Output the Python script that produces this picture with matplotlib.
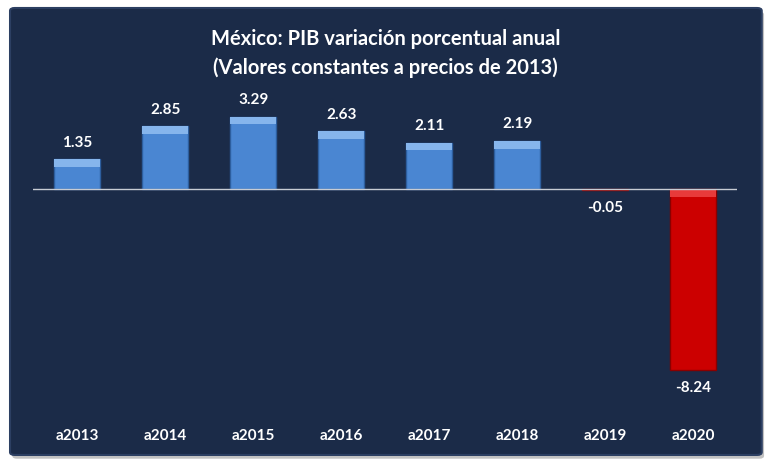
import matplotlib
matplotlib.use("Agg")
import matplotlib.pyplot as plt
from matplotlib.patches import FancyBboxPatch
import numpy as np

# datos
anios = ["a2013", "a2014", "a2015", "a2016", "a2017", "a2018", "a2019", "a2020"]
variacion = [1.35, 2.85, 3.29, 2.63, 2.11, 2.19, -0.05, -8.24]

plt.rcParams['font.family'] = ['Lato', 'DejaVu Sans']

fig = plt.figure(figsize=(7.71, 4.70), dpi=100)
fig.patch.set_facecolor('white')

# panel oscuro con sombra
sombra = FancyBboxPatch((0.016, 0.024), 0.975, 0.951, boxstyle="round,pad=0,rounding_size=0.006",
                        transform=fig.transFigure, facecolor='#9a9a9a', edgecolor='none', alpha=0.6,
                        zorder=-2)
panel = FancyBboxPatch((0.013, 0.032), 0.975, 0.951, boxstyle="round,pad=0,rounding_size=0.006",
                       transform=fig.transFigure, facecolor='#1b2b48', edgecolor='#2c3f62', linewidth=1.5,
                       zorder=-1)
fig.patches.append(sombra)
fig.patches.append(panel)

ax = fig.add_axes([0.043, 0.149, 0.913, 0.638])
ax.set_facecolor('none')

x = np.arange(len(anios))
colores = ['#4a86d2' if v > 0 else '#cc0000' for v in variacion]
bordes = ['#2d5e9e' if v > 0 else '#8a0000' for v in variacion]
bars = ax.bar(x, variacion, width=0.52, color=colores, edgecolor=bordes, linewidth=1, zorder=2)

# brillo superior de cada barra
for b, v in zip(bars, variacion):
    h = 0.35 if abs(v) > 0.5 else 0
    if v > 0:
        ax.bar(b.get_x() + b.get_width() / 2, -h, bottom=v, width=0.52,
               color='#86b5ec', edgecolor='none', zorder=3)
    else:
        ax.bar(b.get_x() + b.get_width() / 2, -h, bottom=0, width=0.52,
               color='#e83a3a', edgecolor='none', zorder=3)

ax.axhline(0, color='#c8ccd4', linewidth=1, zorder=4)

for xi, v in zip(x, variacion):
    if v >= 0:
        ax.annotate(f"{v:.2f}", (xi, v), xytext=(0, 7), textcoords='offset points',
                    ha='center', va='bottom', color='white', fontsize=11, fontweight='bold')
    else:
        ax.annotate(f"{v:.2f}", (xi, v), xytext=(0, -8), textcoords='offset points',
                    ha='center', va='top', color='white', fontsize=11, fontweight='bold')

ax.set_xlim(-0.5, len(anios) - 0.5)
ax.set_ylim(-9.6, 4.05)
ax.set_xticks(x)
ax.set_xticklabels(anios, color='white', fontsize=11, fontweight='bold')
ax.tick_params(axis='x', length=0, pad=21)
ax.set_yticks([])
for s in ax.spines.values():
    s.set_visible(False)

fig.text(0.5, 0.887, "México: PIB variación porcentual anual\n(Valores constantes a precios de 2013)",
         ha='center', va='center', color='white', fontsize=14.5, fontweight='bold', linespacing=1.5)

plt.savefig('out.png', dpi=100, facecolor=fig.get_facecolor())
